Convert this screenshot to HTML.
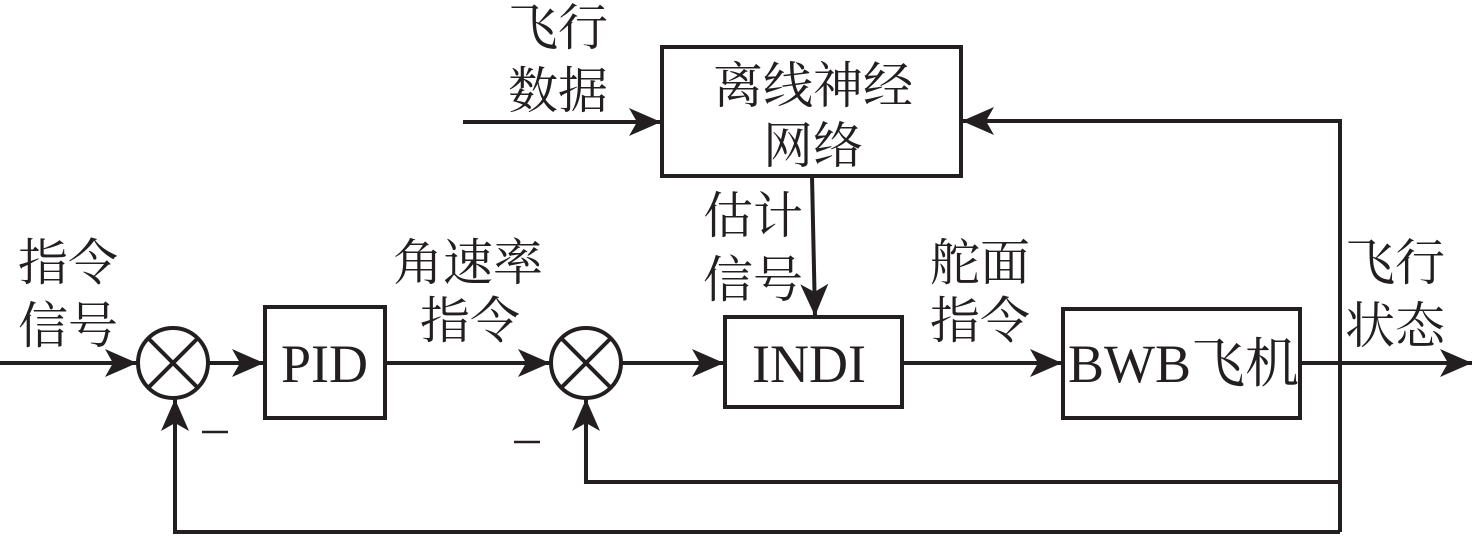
<!DOCTYPE html>
<html><head><meta charset="utf-8"><style>
html,body{margin:0;padding:0;background:#fff;}
svg{display:block;}
text{font-family:"Liberation Serif","Noto Serif CJK SC",serif;font-size:50px;fill:#231f20;}
text.b{font-size:54px;}
</style></head><body>
<svg width="1476" height="539" viewBox="0 0 1476 539" xmlns="http://www.w3.org/2000/svg">
<defs>
<marker id="a" markerWidth="34" markerHeight="28" refX="32" refY="14" orient="auto" markerUnits="userSpaceOnUse">
<path d="M0,0 L32,14 L0,28 L8,14 Z" fill="#231f20"/>
</marker>
</defs>
<g stroke="#231f20" stroke-width="4" fill="none">
<rect x="662" y="47" width="299" height="129"/>
<rect x="265" y="307" width="120" height="111"/>
<rect x="725" y="317" width="177" height="90"/>
<rect x="1063" y="309" width="237" height="109"/>
<circle cx="173" cy="363" r="35"/>
<line x1="148" y1="338" x2="198" y2="388"/><line x1="198" y1="338" x2="148" y2="388"/>
<circle cx="586" cy="363" r="35"/>
<line x1="561" y1="338" x2="611" y2="388"/><line x1="611" y1="338" x2="561" y2="388"/>
<line x1="0" y1="363" x2="137" y2="363" marker-end="url(#a)"/>
<line x1="208" y1="363" x2="264" y2="363" marker-end="url(#a)"/>
<line x1="385" y1="363" x2="550" y2="363" marker-end="url(#a)"/>
<line x1="621" y1="363" x2="724" y2="363" marker-end="url(#a)"/>
<line x1="902" y1="363" x2="1062" y2="363" marker-end="url(#a)"/>
<line x1="1300" y1="363" x2="1472" y2="363" marker-end="url(#a)"/>
<line x1="463" y1="122" x2="661" y2="122" marker-end="url(#a)"/>
<polyline points="1340,532 1340,121 962,121" marker-end="url(#a)"/>
<line x1="812" y1="176" x2="815" y2="316" marker-end="url(#a)"/>
<polyline points="1340,482 586,482 586,399" marker-end="url(#a)"/>
<polyline points="1340,532 175,532 175,399" marker-end="url(#a)"/>
<line x1="202" y1="432" x2="228" y2="432" stroke-width="2.5"/>
<line x1="514" y1="442" x2="540" y2="442" stroke-width="2.5"/>
</g>
<text x="508" y="45">飞行</text>
<text x="508" y="108">数据</text>
<text x="713" y="103">离线神经</text>
<text x="763" y="163">网络</text>
<text x="18" y="280">指令</text>
<text x="18" y="343">信号</text>
<text x="393" y="280">角速率</text>
<text x="420" y="338">指令</text>
<text x="703" y="233">估计</text>
<text x="703" y="297">信号</text>
<text x="930" y="280">舵面</text>
<text x="930" y="338">指令</text>
<text x="1345" y="280">飞行</text>
<text x="1345" y="343">状态</text>
<text class="b" x="281" y="382">PID</text>
<text class="b" x="752" y="382">INDI</text>
<text class="b" x="1068" y="382">BWB飞机</text>
</svg>
</body></html>
